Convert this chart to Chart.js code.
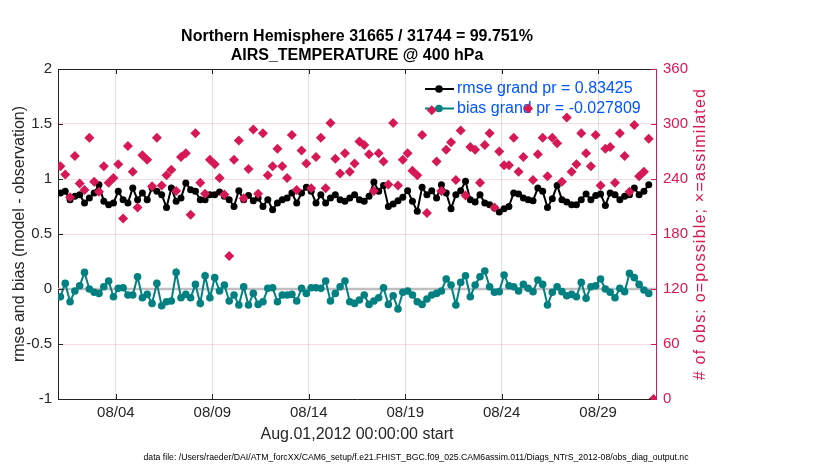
<!DOCTYPE html>
<html>
<head>
<meta charset="utf-8">
<script src="https://cdn.jsdelivr.net/npm/chart.js@4.4.0/dist/chart.umd.min.js"></script>
<style>
  html, body { margin: 0; padding: 0; background: #fff; }
</style>
</head>
<body>
<canvas id="obsChart" width="830" height="470"></canvas>
<script>
// x ticks (days after Aug 1 00:00) and their labels
const tickDays = [3, 8, 13, 18, 23, 28];
const tickLabels = ["08/04", "08/09", "08/14", "08/19", "08/24", "08/29"];
const leftTicks = [-1, -0.5, 0, 0.5, 1, 1.5, 2];
const rightTicks = [0, 60, 120, 180, 240, 300, 360];

// 6-hourly bins, values
const rmse = [
    0.873, 0.888, 0.812, 0.843, 0.857, 0.782, 0.827, 0.873, 0.948, 0.797, 0.766, 0.782, 0.888, 0.812, 0.782, 0.918,
    0.812, 0.873, 0.812, 0.918, 0.888, 0.857, 0.742, 0.918, 0.797, 0.827, 0.964, 0.903, 0.888, 0.812, 0.812, 0.857,
    0.857, 0.882, 0.843, 0.812, 0.751, 0.894, 0.812, 0.851, 0.803, 0.827, 0.751, 0.812, 0.721, 0.782, 0.812, 0.827,
    0.873, 0.782, 0.873, 0.924, 0.888, 0.782, 0.857, 0.782, 0.827, 0.857, 0.812, 0.797, 0.827, 0.857,
    0.812, 0.797, 0.843, 0.972, 0.888, 0.942, 0.751, 0.772, 0.803, 0.833, 0.894, 0.797, 0.706, 0.924, 0.857, 0.894,
    0.827, 0.948, 0.873, 0.730, 0.857, 0.894, 0.979, 0.812, 0.791, 0.857, 0.782, 0.766, 0.736, 0.700,
    0.730, 0.751, 0.873, 0.864, 0.827, 0.812, 0.803, 0.918, 0.888, 0.742, 0.821, 0.942, 0.812, 0.791, 0.766, 0.766,
    0.812, 0.864, 0.812, 0.851, 0.864, 0.760, 0.873, 0.857, 0.812, 0.843, 0.857, 0.918, 0.857, 0.888, 0.948, null
];
const bias = [
    -0.070, 0.051, -0.116, -0.018, 0.030, 0.151, 0.000, -0.030, -0.040, 0.021, 0.073, -0.070, 0.006, 0.012, -0.055, -0.055,
    0.112, -0.079, -0.049, -0.131, 0.051, -0.152, -0.116, -0.109, 0.151, -0.079, -0.049, -0.079, 0.042, -0.131, 0.121, -0.079,
    0.103, -0.018, 0.036, -0.109, -0.055, -0.146, 0.021, -0.146, -0.040, -0.140, -0.116, 0.006, 0.012, -0.116, -0.055, -0.055,
    -0.049, -0.109, 0.006, -0.040, 0.012, 0.012, 0.006, 0.073, -0.109, -0.040, 0.021, 0.073, -0.116, -0.131,
    -0.100, -0.055, -0.140, -0.109, -0.079, 0.012, -0.140, -0.061, -0.182, -0.030, -0.018, -0.055, -0.116, -0.140, -0.091, -0.055,
    -0.040, -0.018, 0.091, 0.036, -0.146, 0.060, 0.121, -0.070, 0.036, 0.112, 0.164, 0.021, -0.030, -0.024, 0.127, 0.030,
    0.021, -0.018, 0.042, 0.006, -0.024, 0.082, 0.042, -0.146, -0.030, 0.021, -0.024, -0.061, -0.049, -0.070, 0.060, -0.085,
    0.021, 0.030, 0.091, 0.000, -0.030, -0.079, 0.006, -0.024, 0.142, 0.103, 0.042, -0.009, -0.040, null
];
const obsCount = [
    254, 245, 220, 265, 235, 228, 285, 237, 226, 254, 236, 241, 256, 197, 276, 248,
    209, 266, 261, 232, 285, 233, 244, 250, 227, 264, 268, 201, 290, 236, 224, 261,
    256, 241, 223, 156, 261, 282, 219, 251, 294, 224, 290, 244, 254, 273, 254, 241,
    288, 228, 271, 257, 230, 264, 285, 230, 301, 262, 246, 268, 248, 257,
    281, 277, 267, 227, 268, 259, 234, 301, 233, 261, 268, 249, 244, 288, 203, 315,
    259, 227, 272, 280, 239, 293, 222, 275, 272, 236, 277, 290, 209, 270,
    255, 255, 285, 248, 264, 317, 239, 267, 285, 243, 285, 279, 237, 307, 248, 256,
    290, 268, 254, 288, 233, 273, 275, 236, 290, 265, 226, 299, 243, 248, 284, 0
];

// bin centres: 03Z, 09Z, 15Z, 21Z ... in days
const binHours = obsCount.map((_, i) => 3 + 6 * i);
const times = binHours.map(h => h / 24);

const red = 'rgb(214,24,84)';
const teal = 'rgb(0,128,128)';
const legendBlue = 'rgb(0,85,255)';
const font = '"Liberation Sans", Arial, Helvetica, sans-serif';

const figText = {
    id: 'figText',
    beforeDatasetsDraw(chart) {
        const { ctx, chartArea: a, scales } = chart;
        const y0 = scales.y.getPixelForValue(0);
        ctx.save();
        ctx.strokeStyle = 'rgb(192,190,192)';
        ctx.lineWidth = 2.5;
        ctx.beginPath();
        ctx.moveTo(a.left, y0);
        ctx.lineTo(a.right, y0);
        ctx.stroke();

        // legend, inside the top right corner
        const rows = [chart.data.datasets[0], chart.data.datasets[1]];
        rows.forEach((ds, i) => {
            const y = 89 + i * 19.5;
            ctx.strokeStyle = ds.borderColor;
            ctx.lineWidth = 2;
            ctx.beginPath();
            ctx.moveTo(425, y);
            ctx.lineTo(454, y);
            ctx.stroke();
            ctx.fillStyle = ds.pointBackgroundColor;
            ctx.beginPath();
            ctx.arc(439, y, 3.8, 0, Math.PI * 2);
            ctx.fill();
            ctx.fillStyle = legendBlue;
            ctx.font = '16px ' + font;
            ctx.textBaseline = 'middle';
            ctx.textAlign = 'left';
            ctx.fillText(ds.label, 457, y);
        });
        ctx.restore();
    },
    afterDraw(chart) {
        const { ctx, chartArea: a, scales } = chart;
        ctx.save();
        // top border and inward tick marks
        ctx.strokeStyle = '#222';
        ctx.lineWidth = 1;
        ctx.beginPath();
        ctx.moveTo(a.left, a.top + 0.5);
        ctx.lineTo(a.right, a.top + 0.5);
        scales.x.ticks.forEach(t => {
            const x = Math.round(scales.x.getPixelForValue(t.value)) + 0.5;
            ctx.moveTo(x, a.bottom); ctx.lineTo(x, a.bottom - 5);
            ctx.moveTo(x, a.top); ctx.lineTo(x, a.top + 5);
        });
        scales.y.ticks.forEach(t => {
            const y = Math.round(scales.y.getPixelForValue(t.value)) + 0.5;
            ctx.moveTo(a.left, y); ctx.lineTo(a.left + 5, y);
        });
        ctx.stroke();
        ctx.strokeStyle = red;
        ctx.beginPath();
        scales.y1.ticks.forEach(t => {
            const y = Math.round(scales.y1.getPixelForValue(t.value)) + 0.5;
            ctx.moveTo(a.right, y); ctx.lineTo(a.right - 5, y);
        });
        ctx.stroke();

        // titles
        const cx = (a.left + a.right) / 2;
        ctx.fillStyle = '#000';
        ctx.textAlign = 'center';
        ctx.textBaseline = 'middle';
        ctx.font = 'bold 16px ' + font;
        ctx.fillText('Northern Hemisphere 31665 / 31744 = 99.751%', cx, 37);
        ctx.fillText('AIRS_TEMPERATURE @ 400 hPa', cx, 56);

        ctx.font = '16px ' + font;
        ctx.fillStyle = '#262626';
        ctx.fillText('Aug.01,2012 00:00:00 start', cx, 435);

        ctx.font = '8.7px ' + font;
        ctx.fillStyle = '#000';
        ctx.fillText('data file: /Users/raeder/DAI/ATM_forcXX/CAM6_setup/f.e21.FHIST_BGC.f09_025.CAM6assim.011/Diags_NTrS_2012-08/obs_diag_output.nc', 416, 458);

        const cy = (a.top + a.bottom) / 2;
        ctx.font = '16px ' + font;
        ctx.save();
        ctx.translate(20, cy);
        ctx.rotate(-Math.PI / 2);
        ctx.fillStyle = '#262626';
        ctx.fillText('rmse and bias (model - observation)', 0, 0);
        ctx.restore();
        ctx.save();
        ctx.translate(701, cy);
        ctx.rotate(-Math.PI / 2);
        ctx.fillStyle = red;
        ctx.letterSpacing = '1.2px';
        ctx.fillText('# of obs: o=possible; \u00d7=assimilated', 0, 0);
        ctx.restore();
        ctx.restore();
    }
};

const ctx = document.getElementById('obsChart');
new Chart(ctx, {
    type: 'line',
    data: {
        datasets: [{
            label: 'rmse grand pr = 0.83425',
            data: rmse.map((v, i) => ({ x: times[i], y: v })),
            yAxisID: 'y',
            borderColor: '#000',
            backgroundColor: '#000',
            pointBackgroundColor: '#000',
            pointBorderColor: '#000',
            borderWidth: 2,
            pointRadius: 3.5,
            pointBorderWidth: 0,
            order: 1
        }, {
            label: 'bias grand pr = -0.027809',
            data: bias.map((v, i) => ({ x: times[i], y: v })),
            yAxisID: 'y',
            borderColor: teal,
            backgroundColor: teal,
            pointBackgroundColor: teal,
            pointBorderColor: teal,
            borderWidth: 2,
            pointRadius: 3.8,
            pointBorderWidth: 0,
            order: 2
        }, {
            label: 'obs count',
            data: obsCount.map((v, i) => ({ x: times[i], y: v })),
            yAxisID: 'y1',
            showLine: false,
            borderColor: red,
            backgroundColor: red,
            pointStyle: 'rectRot',
            pointRadius: 5,
            pointBorderWidth: 0,
            order: 0
        }]
    },
    options: {
        responsive: false,
        animation: false,
        events: [],
        layout: { padding: { top: 69, left: 0, right: 0, bottom: 0 } },
        plugins: { legend: { display: false }, tooltip: { enabled: false }, title: { display: false } },
        scales: {
            x: {
                type: 'linear',
                min: 0,
                max: 31,
                afterBuildTicks: s => { s.ticks = tickDays.map(v => ({ value: v })); },
                afterFit: s => { s.height = 71; },
                ticks: {
                    callback: (v, i) => tickLabels[i],
                    font: { family: font, size: 15 },
                    color: '#262626',
                    padding: 5,
                    maxRotation: 0
                },
                grid: { color: 'rgba(0,0,0,0.13)', drawTicks: false },
                border: { display: true, color: '#222', width: 1 }
            },
            y: {
                position: 'left',
                min: -1,
                max: 2,
                afterBuildTicks: s => { s.ticks = leftTicks.map(v => ({ value: v })); },
                afterFit: s => { s.width = 58; },
                ticks: {
                    callback: v => String(v),
                    font: { family: font, size: 15 },
                    color: '#262626',
                    padding: 6
                },
                grid: { display: false, drawTicks: false },
                border: { display: true, color: '#222', width: 1 }
            },
            y1: {
                position: 'right',
                min: 0,
                max: 360,
                afterBuildTicks: s => { s.ticks = rightTicks.map(v => ({ value: v })); },
                afterFit: s => { s.width = 174; },
                ticks: {
                    callback: v => String(v),
                    font: { family: font, size: 15 },
                    color: red,
                    padding: 7
                },
                grid: { color: 'rgba(214,24,84,0.16)', drawTicks: false },
                border: { display: true, color: red, width: 1 }
            }
        }
    },
    plugins: [figText]
});
</script>
</body>
</html>
